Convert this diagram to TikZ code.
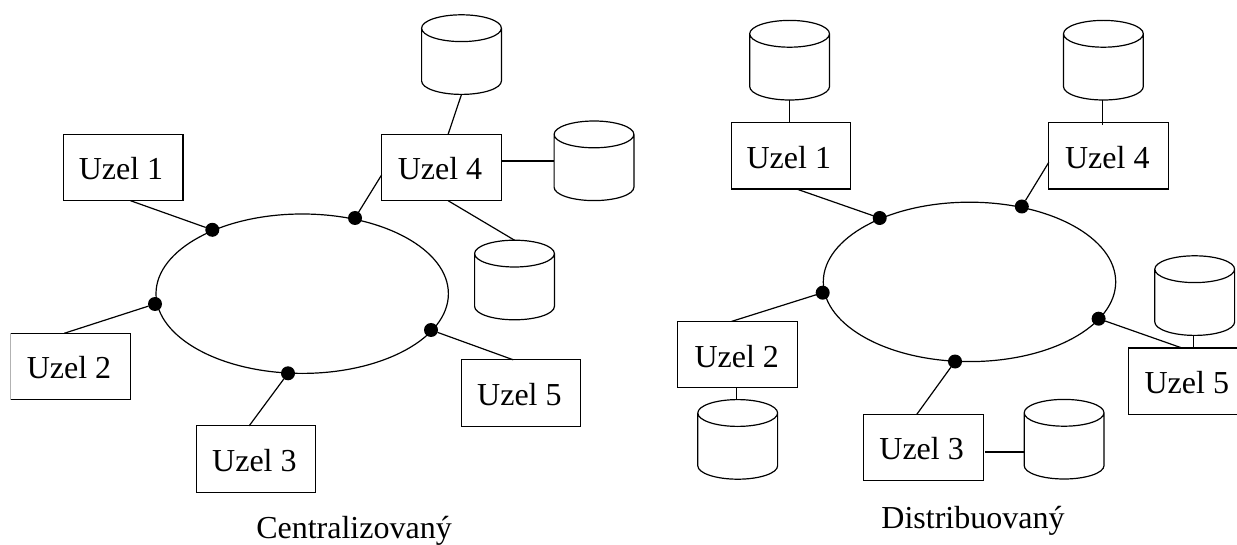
\documentclass[tikz,border=0pt]{standalone}
\usepackage{fontspec}
\setmainfont{Liberation Serif}
\usetikzlibrary{calc,shapes.geometric}
\tikzset{
  box/.style={draw,rectangle,inner sep=0pt,outer sep=0pt,minimum width=119.6pt,minimum height=66.4pt},
  disk/.style={rectangle,inner sep=0pt,outer sep=0pt,minimum width=79.8pt,minimum height=79.6pt},
  dot/.style={circle,fill=black,inner sep=0pt,outer sep=0pt,minimum size=14pt},
  ring/.style={draw,ellipse,inner sep=0pt,outer sep=0pt,minimum width=292.4pt,minimum height=159.4pt},
  lab/.style={font=\fontsize{32pt}{32pt}\selectfont,inner sep=0pt,anchor=base}
}
\newcommand{\DiskAt}[3]{%
  \node[disk] (#1) at (#2,#3) {};
  \draw ([yshift=-13.4pt]#1.north west) -- ([yshift=13.4pt]#1.south west)
    arc[start angle=180,end angle=360,x radius=39.9pt,y radius=13.4pt]
    -- ([yshift=-13.4pt]#1.north east)
    arc[start angle=0,end angle=180,x radius=39.9pt,y radius=13.4pt]
    arc[start angle=180,end angle=360,x radius=39.9pt,y radius=13.4pt];
}
\begin{document}
\begin{tikzpicture}[x=1pt,y=-1pt,line width=1.2pt]
\useasboundingbox (0,0) rectangle (1237,545);
\clip (0,0) rectangle (1237,545);
% Left: Centralizovany
\node[ring] (lr) at (302.2,293.7) {};
\node[box] (lu1) at (123.1,167.5) {};
\node[box,draw=none] (lu2) at (70.5,366.5) {};
\draw (lu2.north west) -- (lu2.north east) -- (lu2.south east) -- (lu2.south west);
\draw[black!30] (lu2.north west) -- (lu2.south west);
\node[box] (lu3) at (256,459) {};
\node[box] (lu4) at (441.5,167.5) {};
\node[box] (lu5) at (521,393) {};
\node[lab] at (121,179.7) {Uzel 1};
\node[lab] at (69,378) {Uzel 2};
\node[lab] at (254.4,471.7) {Uzel 3};
\node[lab] at (440,179.7) {Uzel 4};
\node[lab] at (519.4,405.6) {Uzel 5};
\node[dot] (ld1) at (212.3,229.8) {};
\node[dot] (ld2) at (155,304) {};
\node[dot] (ld3) at (288,373.3) {};
\node[dot] (ld4) at (355,218) {};
\node[dot] (ld5) at (431,330) {};
\DiskAt{lc1}{461.5}{54.6}
\DiskAt{lc2}{594}{160.8}
\DiskAt{lc3}{514.5}{280}
\draw (lu1.south west) ++(67.2,0) coordinate (a) -- (ld1);
\draw (lu2.north west) ++(53.5,0) coordinate (a) -- (ld2);
\draw (lu3.north west) ++(53,0) coordinate (a) -- (ld3);
\draw (lu4.west) ++(0,7.3) coordinate (a) -- (ld4);
\draw (lu5.north west) ++(52,0) coordinate (a) -- (ld5);
\draw (lu4.north west) ++(66.4,0) coordinate (a) -- (lc1.south);
\draw (lu4.east) ++(0,-6.5) coordinate (a) -- (lc2.west |- a);
\draw (lu4.south west) ++(66.4,0) coordinate (a) -- (lc3.north);
% Right: Distribuovany
\node[ring] (rr) at (969.5,281.9) {};
\node[box] (ru1) at (791,155.9) {};
\node[box] (ru2) at (737.6,354.6) {};
\node[box] (ru3) at (923.3,447.4) {};
\node[box] (ru4) at (1108.6,155.9) {};
\node[box] (ru5) at (1188.3,381.2) {};
\node[lab] at (788.8,169) {Uzel 1};
\node[lab] at (736.7,367) {Uzel 2};
\node[lab] at (921.6,459.9) {Uzel 3};
\node[lab] at (1107.3,169) {Uzel 4};
\node[lab] at (1186.8,393.5) {Uzel 5};
\node[dot] (rd1) at (879.7,218) {};
\node[dot] (rd2) at (822.7,292.7) {};
\node[dot] (rd3) at (955,361.5) {};
\node[dot] (rd4) at (1021.8,206.5) {};
\node[dot] (rd5) at (1098.6,318.7) {};
\DiskAt{rc1}{789.6}{60.2}
\DiskAt{rc2}{737.7}{439.4}
\DiskAt{rc3}{1064.1}{439.2}
\DiskAt{rc4}{1103.4}{60.2}
\DiskAt{rc5}{1194.7}{295.6}
\draw (ru1.south west) ++(65.6,0) coordinate (a) -- (rd1);
\draw (ru2.north west) ++(53.8,0) coordinate (a) -- (rd2);
\draw (ru3.north west) ++(53.4,0) coordinate (a) -- (rd3);
\draw (ru4.west) ++(0,6.4) coordinate (a) -- (rd4);
\draw (ru5.north west) ++(53.5,0) coordinate (a) -- (rd5);
\draw (rc1.south) -- (rc1.south |- ru1.north);
\draw (rc4.south) ++(-0.9,0) coordinate (a) -- ++(0,25);
\draw (ru2.south west) ++(58.7,0) coordinate (a) -- (a |- rc2.north);
\draw (ru3.east) ++(2.3,4.5) coordinate (a) -- (rc3.west |- a);
\draw (rc5.south) ++(-0.9,0) coordinate (a) -- (a |- ru5.north);
\node[lab] (t1) at (354,538.8) {Centralizovaný};
\node[lab] (t2) at (973,528.3) {Distribuovaný};
\end{tikzpicture}
\end{document}
